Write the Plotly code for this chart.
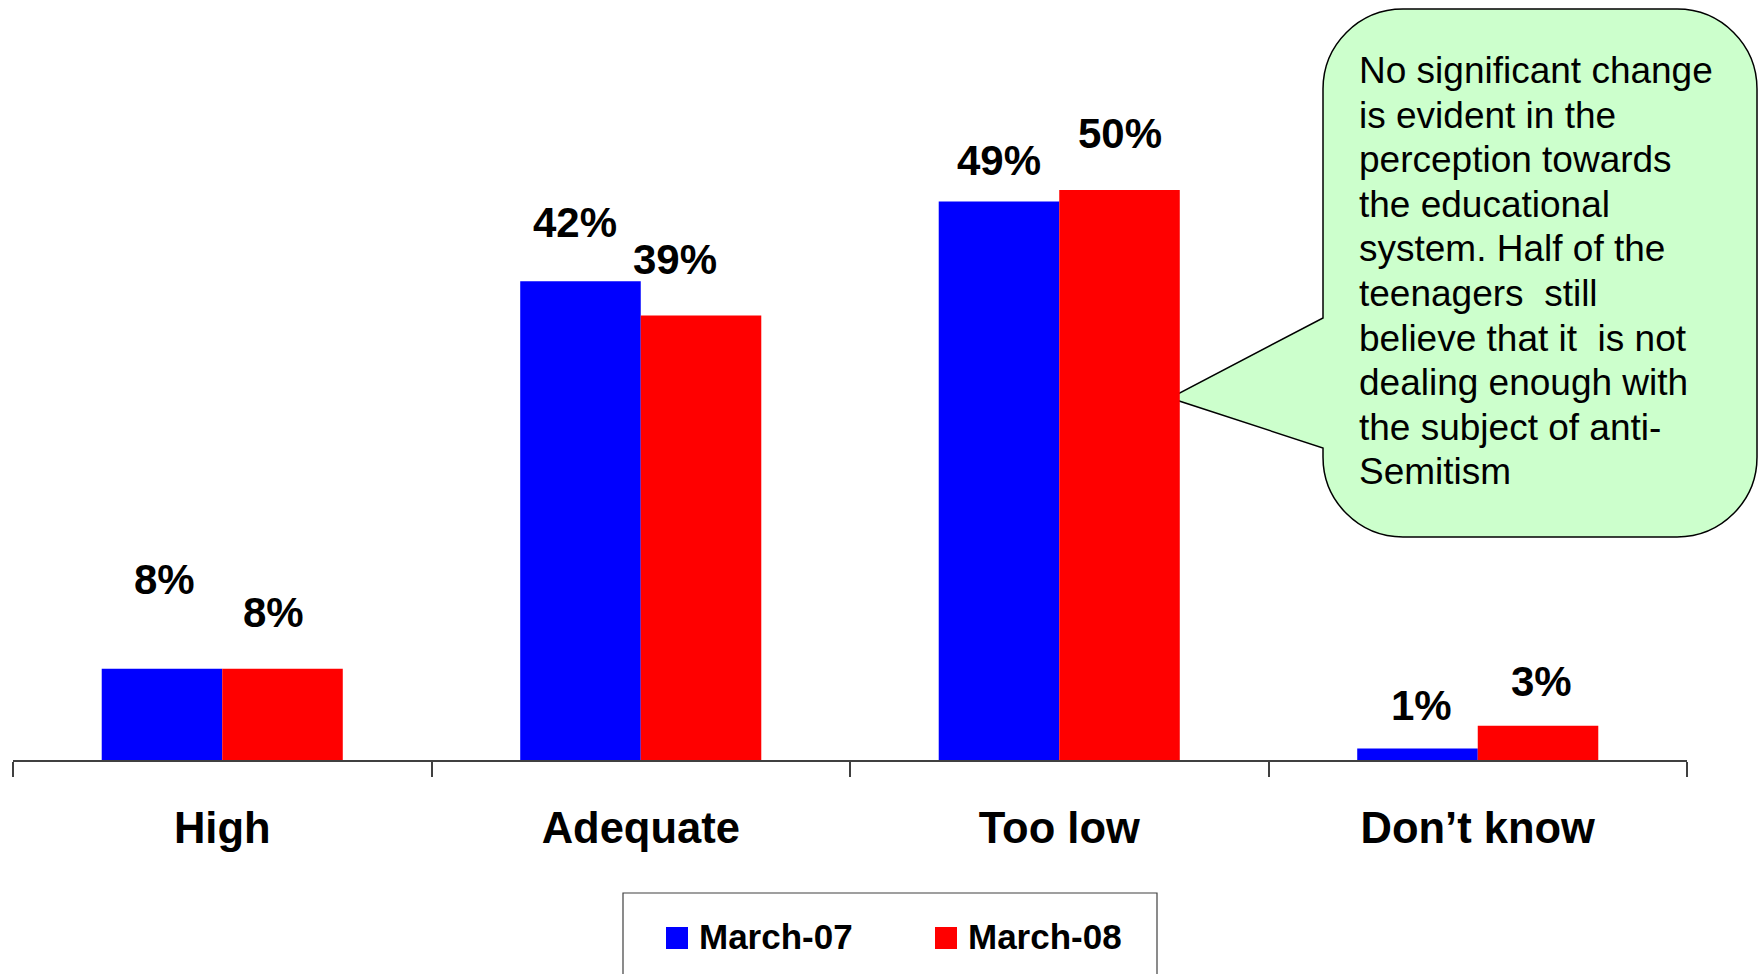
import plotly.graph_objects as go

# ---------------- data ----------------
categories = ["High", "Adequate", "Too low", "Don\u2019t know"]
series_names = ["March-07", "March-08"]
march07 = [8, 42, 49, 1]
march08 = [8, 39, 50, 3]
labels07 = ["8%", "42%", "49%", "1%"]
labels08 = ["8%", "39%", "50%", "3%"]

callout_lines = [
    "No significant change",
    "is evident in the",
    "perception towards",
    "the educational",
    "system. Half of the",
    "teenagers\u00a0 still",
    "believe that it\u00a0 is not",
    "dealing enough with",
    "the subject of anti-",
    "Semitism",
]

# ---------------- styling / layout ----------------
W, H = 1759, 974
ML, MR, MT, MB = 13, 72, 0, 214
PLOT_W = W - ML - MR
PLOT_H = H - MT - MB
PX_PER_PCT = 11.4
BARGAP = 0.424
BLUE, RED = "#0000FF", "#FF0000"
FONT = "Arial, 'Liberation Sans', Helvetica, sans-serif"

# per-label pixel nudges (label placement as in original)
shift07_y = [89, 59, 41, 43]
shift08_y = [56.5, 56, 57, 44]
shift07_x = [3, -5, 0, 4]
shift08_x = [-9, -26, 0, 3]


def px(x):
    return (x - ML) / PLOT_W


def py(y):
    return (H - MB - y) / PLOT_H


fig = go.Figure()
fig.add_trace(go.Bar(x=categories, y=march07, name=series_names[0],
                     marker=dict(color=BLUE, line=dict(width=0)), showlegend=False))
fig.add_trace(go.Bar(x=categories, y=march08, name=series_names[1],
                     marker=dict(color=RED, line=dict(width=0)), showlegend=False))

bw = (1 - BARGAP) / 2
annotations = []
for i in range(len(categories)):
    for vals, labs, xs, ys, off in ((march07, labels07, shift07_x, shift07_y, -bw / 2),
                                     (march08, labels08, shift08_x, shift08_y, bw / 2)):
        annotations.append(dict(
            x=i + off, y=vals[i], xref="x", yref="y", text=labs[i],
            showarrow=False, xanchor="center", yanchor="middle",
            xshift=xs[i], yshift=ys[i],
            font=dict(family=FONT, size=42, color="black", weight="bold"),
        ))

# callout text, one annotation per line
CALLOUT_FS = 37
first_center, step = 70.5, 44.6
for j, line in enumerate(callout_lines):
    annotations.append(dict(
        x=px(1357), y=py(first_center + j * step), xref="paper", yref="paper",
        text=line, align="left",
        showarrow=False, xanchor="left", yanchor="middle",
        font=dict(family=FONT, size=CALLOUT_FS, color="black"),
    ))

# legend text
for name, xl in zip(series_names, (697, 966)):
    annotations.append(dict(
        x=px(xl), y=py(936), xref="paper", yref="paper", text=name,
        showarrow=False, xanchor="left", yanchor="middle",
        font=dict(family=FONT, size=35, color="black", weight="bold"),
    ))

# callout shape (rounded box with pointer)
x0, x1, y0, y1, r = 1323, 1757, 9, 537, 80
k = 0.5523 * r
tip = (1170, 398)
t_top, t_bot = 318, 448


def P(x, y):
    return f"{px(x):.5f},{py(y):.5f}"


path = (
    f"M {P(x0 + r, y0)} L {P(x1 - r, y0)} "
    f"C {P(x1 - r + k, y0)} {P(x1, y0 + r - k)} {P(x1, y0 + r)} "
    f"L {P(x1, y1 - r)} "
    f"C {P(x1, y1 - r + k)} {P(x1 - r + k, y1)} {P(x1 - r, y1)} "
    f"L {P(x0 + r, y1)} "
    f"C {P(x0 + r - k, y1)} {P(x0, y1 - r + k)} {P(x0, y1 - r)} "
    f"L {P(x0, t_bot)} L {P(*tip)} L {P(x0, t_top)} "
    f"L {P(x0, y0 + r)} "
    f"C {P(x0, y0 + r - k)} {P(x0 + r - k, y0)} {P(x0 + r, y0)} Z"
)

shapes = [
    dict(type="path", xref="paper", yref="paper", path=path,
         fillcolor="#CCFFCC", line=dict(color="black", width=1.5), layer="below"),
    # legend frame
    dict(type="rect", xref="paper", yref="paper",
         x0=px(623), x1=px(1157), y0=py(893), y1=py(990),
         line=dict(color="#404040", width=1.2), fillcolor="rgba(0,0,0,0)"),
    dict(type="rect", xref="paper", yref="paper",
         x0=px(666), x1=px(688), y0=py(927), y1=py(949),
         line=dict(width=0), fillcolor=BLUE),
    dict(type="rect", xref="paper", yref="paper",
         x0=px(935), x1=px(957), y0=py(927), y1=py(949),
         line=dict(width=0), fillcolor=RED),
]

fig.update_layout(
    width=W, height=H,
    margin=dict(l=ML, r=MR, t=MT, b=MB, autoexpand=False),
    paper_bgcolor="white", plot_bgcolor="rgba(0,0,0,0)",
    barmode="group", bargap=BARGAP, bargroupgap=0,
    annotations=annotations, shapes=shapes,
    showlegend=False,
    font=dict(family=FONT, color="black"),
)
fig.update_xaxes(
    type="category", range=[-0.5, 3.5],
    showline=True, linecolor="#404040", linewidth=1.5,
    ticks="outside", tickson="boundaries", ticklen=15, tickwidth=1.5, tickcolor="#404040",
    tickfont=dict(family=FONT, size=43.5, color="black", weight="bold"),
    ticklabelstandoff=29,
    showgrid=False, zeroline=False,
)
fig.update_yaxes(
    range=[0, PLOT_H / PX_PER_PCT], visible=False, showgrid=False, zeroline=False,
)

fig.write_html("out.html",
               config={"displayModeBar": False},
               post_script="document.body.style.margin='0';document.body.style.overflow='hidden';")
